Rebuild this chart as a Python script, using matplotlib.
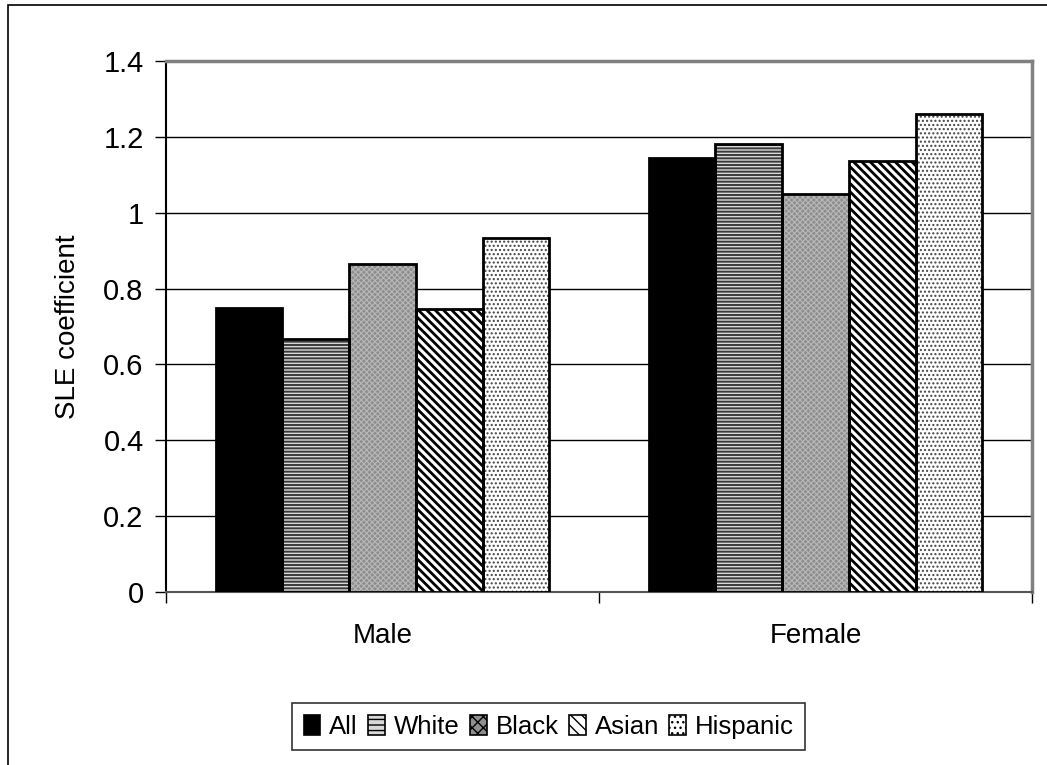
"""SLE coefficient by sex and race/ethnicity."""

import numpy as np
import matplotlib
matplotlib.use("Agg")
import matplotlib.pyplot as plt
from matplotlib.patches import Rectangle

plt.rcParams["font.family"] = ["Liberation Sans", "DejaVu Sans"]

groups = ["Male", "Female"]
series = ["All", "White", "Black", "Asian", "Hispanic"]
values = {
    "All": [0.75, 1.145],
    "White": [0.667, 1.18],
    "Black": [0.865, 1.048],
    "Asian": [0.747, 1.136],
    "Hispanic": [0.932, 1.26],
}
yticks = [0, 0.2, 0.4, 0.6, 0.8, 1, 1.2, 1.4]
ytick_labels = ["0", "0.2", "0.4", "0.6", "0.8", "1", "1.2", "1.4"]

# face colour, hatch, hatch colour, hatch width
styles = {
    "All": ("black", None, "black", 1.0),
    "White": ("#d8d8d8", "-----", "#3a3a3a", 1.4),
    "Black": ("#8e8e8e", "xxxxxx", "#b8b8b8", 0.8),
    "Asian": ("white", "\\\\\\\\", "black", 2.0),
    "Hispanic": ("white", "....", "#444444", 1.0),
}

fig = plt.figure(figsize=(10.47, 7.65), dpi=100)
ax = fig.add_axes([0.1585, 0.2261, 0.8272, 0.6942])

# outer chart frame
fig.patches.append(Rectangle((0.008, -0.1), 1.2, 1.093, transform=fig.transFigure,
                             fill=False, edgecolor="black", linewidth=1.2))

x = np.arange(len(groups))
n = len(series)
bw = 0.77 / n
handles = []
for i, s in enumerate(series):
    fc, hatch, hc, hw = styles[s]
    pos = x - 0.385 + bw * (i + 0.5)
    with plt.rc_context({"hatch.linewidth": hw}):
        bars = ax.bar(pos, values[s], bw, color=fc, hatch=hatch, edgecolor=hc,
                      linewidth=0, zorder=3)
    for b in bars:
        if hasattr(b, "set_hatch_linewidth"):
            b.set_hatch_linewidth(hw)
    ax.bar(pos, values[s], bw, fill=False, edgecolor="black", linewidth=2, zorder=4)
    h = Rectangle((0, 0), 1, 1, facecolor=fc, hatch=hatch[:3] if hatch else None,
                  edgecolor="black", linewidth=1.2)
    handles.append(h)

ax.set_xlim(-0.5, 1.5)
ax.set_ylim(0, 1.4)
ax.set_yticks(yticks)
ax.set_yticklabels(ytick_labels, fontsize=21)
ax.set_xticks(x)
ax.set_xticklabels(groups, fontsize=20)
ax.set_xticks([-0.5, 0.5, 1.5], minor=True)
ax.tick_params(axis="x", which="major", length=0, pad=22)
ax.tick_params(axis="x", which="minor", length=8, width=1)
ax.tick_params(axis="y", length=8, width=1, pad=8)
ax.set_ylabel("SLE coefficient", fontsize=20, labelpad=16)

ax.yaxis.grid(True, color="black", linewidth=1)
ax.set_axisbelow(True)
for side in ["top", "right"]:
    ax.spines[side].set_color("#808080")
    ax.spines[side].set_linewidth(2.5)
ax.spines["left"].set_color("black")
ax.spines["left"].set_linewidth(1.5)
ax.spines["bottom"].set_color("#555555")
ax.spines["bottom"].set_linewidth(1.5)

leg = fig.legend(handles, series, loc="center", bbox_to_anchor=(0.524, 0.05),
                 ncol=5, fontsize=18.5, frameon=True, fancybox=False,
                 handlelength=0.65, handleheight=0.8, handletextpad=0.35,
                 columnspacing=0.4, borderpad=0.45, borderaxespad=0)
leg.get_frame().set_edgecolor("black")
leg.get_frame().set_linewidth(1.2)

fig.savefig("out.png", dpi=100)
plt.close(fig)
